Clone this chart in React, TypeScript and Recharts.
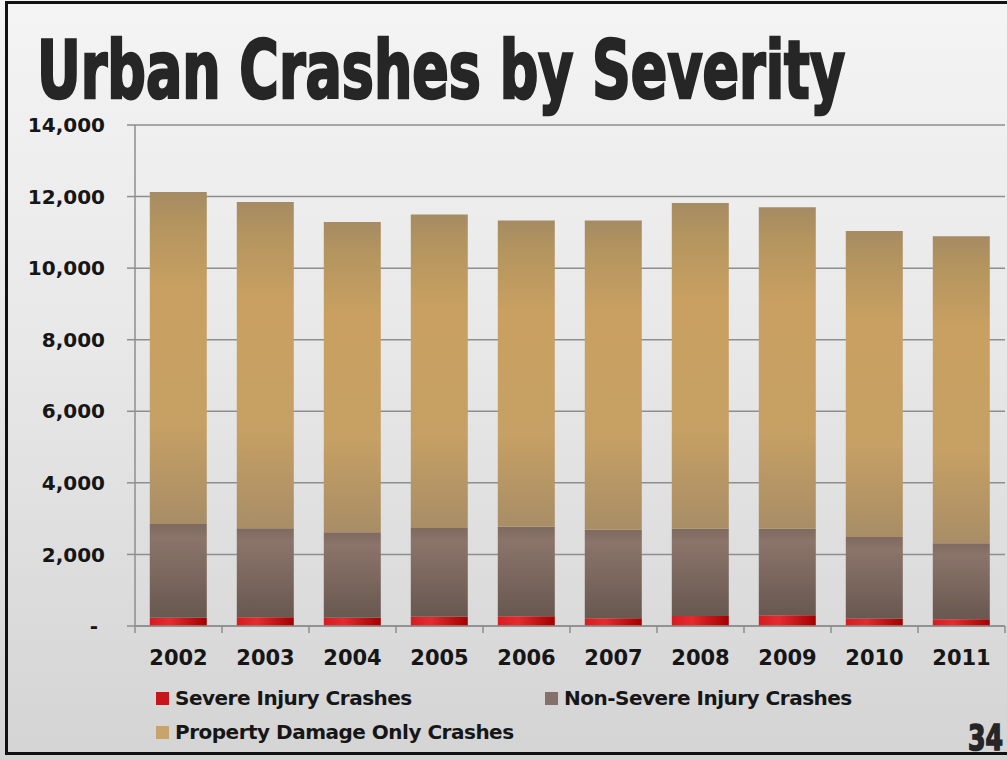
import React from "react";
import { BarChart, Bar, XAxis, YAxis, CartesianGrid } from "recharts";

// Urban crashes by severity, 2002-2011 (stacked)
const YEARS = ["2002", "2003", "2004", "2005", "2006", "2007", "2008", "2009", "2010", "2011"];
const SEVERE = [230, 245, 230, 260, 270, 215, 280, 300, 205, 190];
const NON_SEVERE = [2620, 2485, 2390, 2480, 2500, 2475, 2440, 2420, 2285, 2120];
const PROPERTY_DAMAGE = [9280, 9120, 8670, 8760, 8560, 8640, 9100, 8980, 8550, 8580];
const Y_TICKS = [0, 2000, 4000, 6000, 8000, 10000, 12000, 14000];

const SERIES = [
  { key: "severe", name: "Severe Injury Crashes", fill: "url(#gSevere)", swatch: "#c8151a" },
  { key: "nonSevere", name: "Non-Severe Injury Crashes", fill: "url(#gNonSevere)", swatch: "#85716a" },
  { key: "pdo", name: "Property Damage Only Crashes", fill: "url(#gPdo)", swatch: "#c6a46c" },
];

const W = 1007;
const H = 759;
const PLOT_LEFT = 135;
const PLOT_RIGHT = 1005;
const HALF_BAND = (PLOT_RIGHT - PLOT_LEFT) / YEARS.length / 2;
const GRID = "#8e8e8e";
const INK = "#161616";
const FONT = "'DejaVu Sans', Verdana, sans-serif";
const HEAVY = "'Liberation Sans Narrow', 'DejaVu Sans Condensed', 'DejaVu Sans', sans-serif";

const data = YEARS.map((year, i) => ({
  year,
  severe: SEVERE[i],
  nonSevere: NON_SEVERE[i],
  pdo: PROPERTY_DAMAGE[i],
}));

function YearTick(props: any) {
  const { x, y, payload, index } = props;
  const axisY = y - 24;
  return (
    <g>
      <line x1={x - HALF_BAND} x2={x - HALF_BAND} y1={axisY} y2={axisY + 7} stroke={GRID} strokeWidth={1.5} />
      {index === YEARS.length - 1 && (
        <line x1={x + HALF_BAND} x2={x + HALF_BAND} y1={axisY} y2={axisY + 7} stroke={GRID} strokeWidth={1.5} />
      )}
      <text x={x} y={y} dy="0.71em" textAnchor="middle" fill={INK} fontFamily={FONT} fontWeight="bold" fontSize={21}>
        {payload.value}
      </text>
    </g>
  );
}

const fmt = (v: number) => (v === 0 ? "-\u00a0" : v.toLocaleString("en-US"));

export default function App() {
  const legendRows = [
    [SERIES[0], SERIES[1]],
    [SERIES[2]],
  ];
  const legendX = [156, 545];
  const legendY = [692, 726];

  return (
    <div
      style={{
        position: "absolute",
        left: 0,
        top: 0,
        width: W,
        height: H,
        overflow: "hidden",
        background: "linear-gradient(180deg, #f4f4f4 0%, #e8e8e8 45%, #d4d4d4 100%)",
      }}
    >
      <div
        style={{
          position: "absolute",
          left: 5,
          top: 1,
          width: W + 10,
          height: H - 5,
          border: "3px solid #111",
          boxSizing: "border-box",
        }}
      />
      <BarChart
        width={W}
        height={H}
        data={data}
        margin={{ top: 125, right: W - PLOT_RIGHT, left: 0, bottom: 93 }}
        barCategoryGap="17%"
        style={{ position: "absolute", left: 0, top: 0 }}
      >
        <defs>
          <linearGradient id="gPdo" x1="0" y1="0" x2="0" y2="1">
            <stop offset="0%" stopColor="#a68b63" />
            <stop offset="10%" stopColor="#b4955f" />
            <stop offset="30%" stopColor="#c9a061" />
            <stop offset="70%" stopColor="#c6a064" />
            <stop offset="100%" stopColor="#a88d66" />
          </linearGradient>
          <linearGradient id="gNonSevere" x1="0" y1="0" x2="0" y2="1">
            <stop offset="0%" stopColor="#7e6a60" />
            <stop offset="15%" stopColor="#8b746a" />
            <stop offset="100%" stopColor="#685850" />
          </linearGradient>
          <linearGradient id="gSevere" x1="0" y1="0" x2="1" y2="0">
            <stop offset="0%" stopColor="#d41d22" />
            <stop offset="35%" stopColor="#e52b2f" />
            <stop offset="100%" stopColor="#a30000" />
          </linearGradient>
        </defs>
        <CartesianGrid vertical={false} stroke={GRID} strokeWidth={1.5} />
        <XAxis
          dataKey="year"
          height={40}
          axisLine={{ stroke: GRID, strokeWidth: 1.5 }}
          tickLine={false}
          tickSize={0}
          tickMargin={24}
          interval={0}
          tick={<YearTick />}
        />
        <YAxis
          width={PLOT_LEFT}
          domain={[0, 14000]}
          ticks={Y_TICKS}
          tickFormatter={fmt}
          axisLine={{ stroke: GRID, strokeWidth: 1.5 }}
          tickLine={{ stroke: GRID, strokeWidth: 1.5 }}
          tickSize={8}
          tickMargin={22}
          tick={{ fill: INK, fontFamily: FONT, fontWeight: "bold", fontSize: 20 }}
        />
        {SERIES.map((s) => (
          <Bar key={s.key} dataKey={s.key} name={s.name} stackId="a" fill={s.fill} isAnimationActive={false} />
        ))}
      </BarChart>
      <svg width={W} height={H} style={{ position: "absolute", left: 0, top: 0, pointerEvents: "none" }}>
        <text
          x={37}
          y={98}
          fontFamily={HEAVY}
          fontWeight="bold"
          fontSize={81}
          fill="#262626"
          stroke="#262626"
          strokeWidth={2.5}
          textLength={808}
          lengthAdjust="spacingAndGlyphs"
        >
          Urban Crashes by Severity
        </text>
        {legendRows.map((row, r) =>
          row.map((s, c) => (
            <g key={s.key}>
              <rect x={legendX[c]} y={legendY[r]} width={13} height={13} fill={s.swatch} />
              <text
                x={legendX[c] + 19}
                y={legendY[r] + 13}
                fontFamily={FONT}
                fontWeight="bold"
                fontSize={20}
                letterSpacing={-0.5}
                fill={INK}
              >
                {s.name}
              </text>
            </g>
          ))
        )}
        <text
          x={968}
          y={750}
          fontFamily={HEAVY}
          fontWeight="bold"
          fontSize={35}
          fill="#262626"
          stroke="#262626"
          strokeWidth={1.5}
          textLength={35}
          lengthAdjust="spacingAndGlyphs"
        >
          34
        </text>
      </svg>
    </div>
  );
}
